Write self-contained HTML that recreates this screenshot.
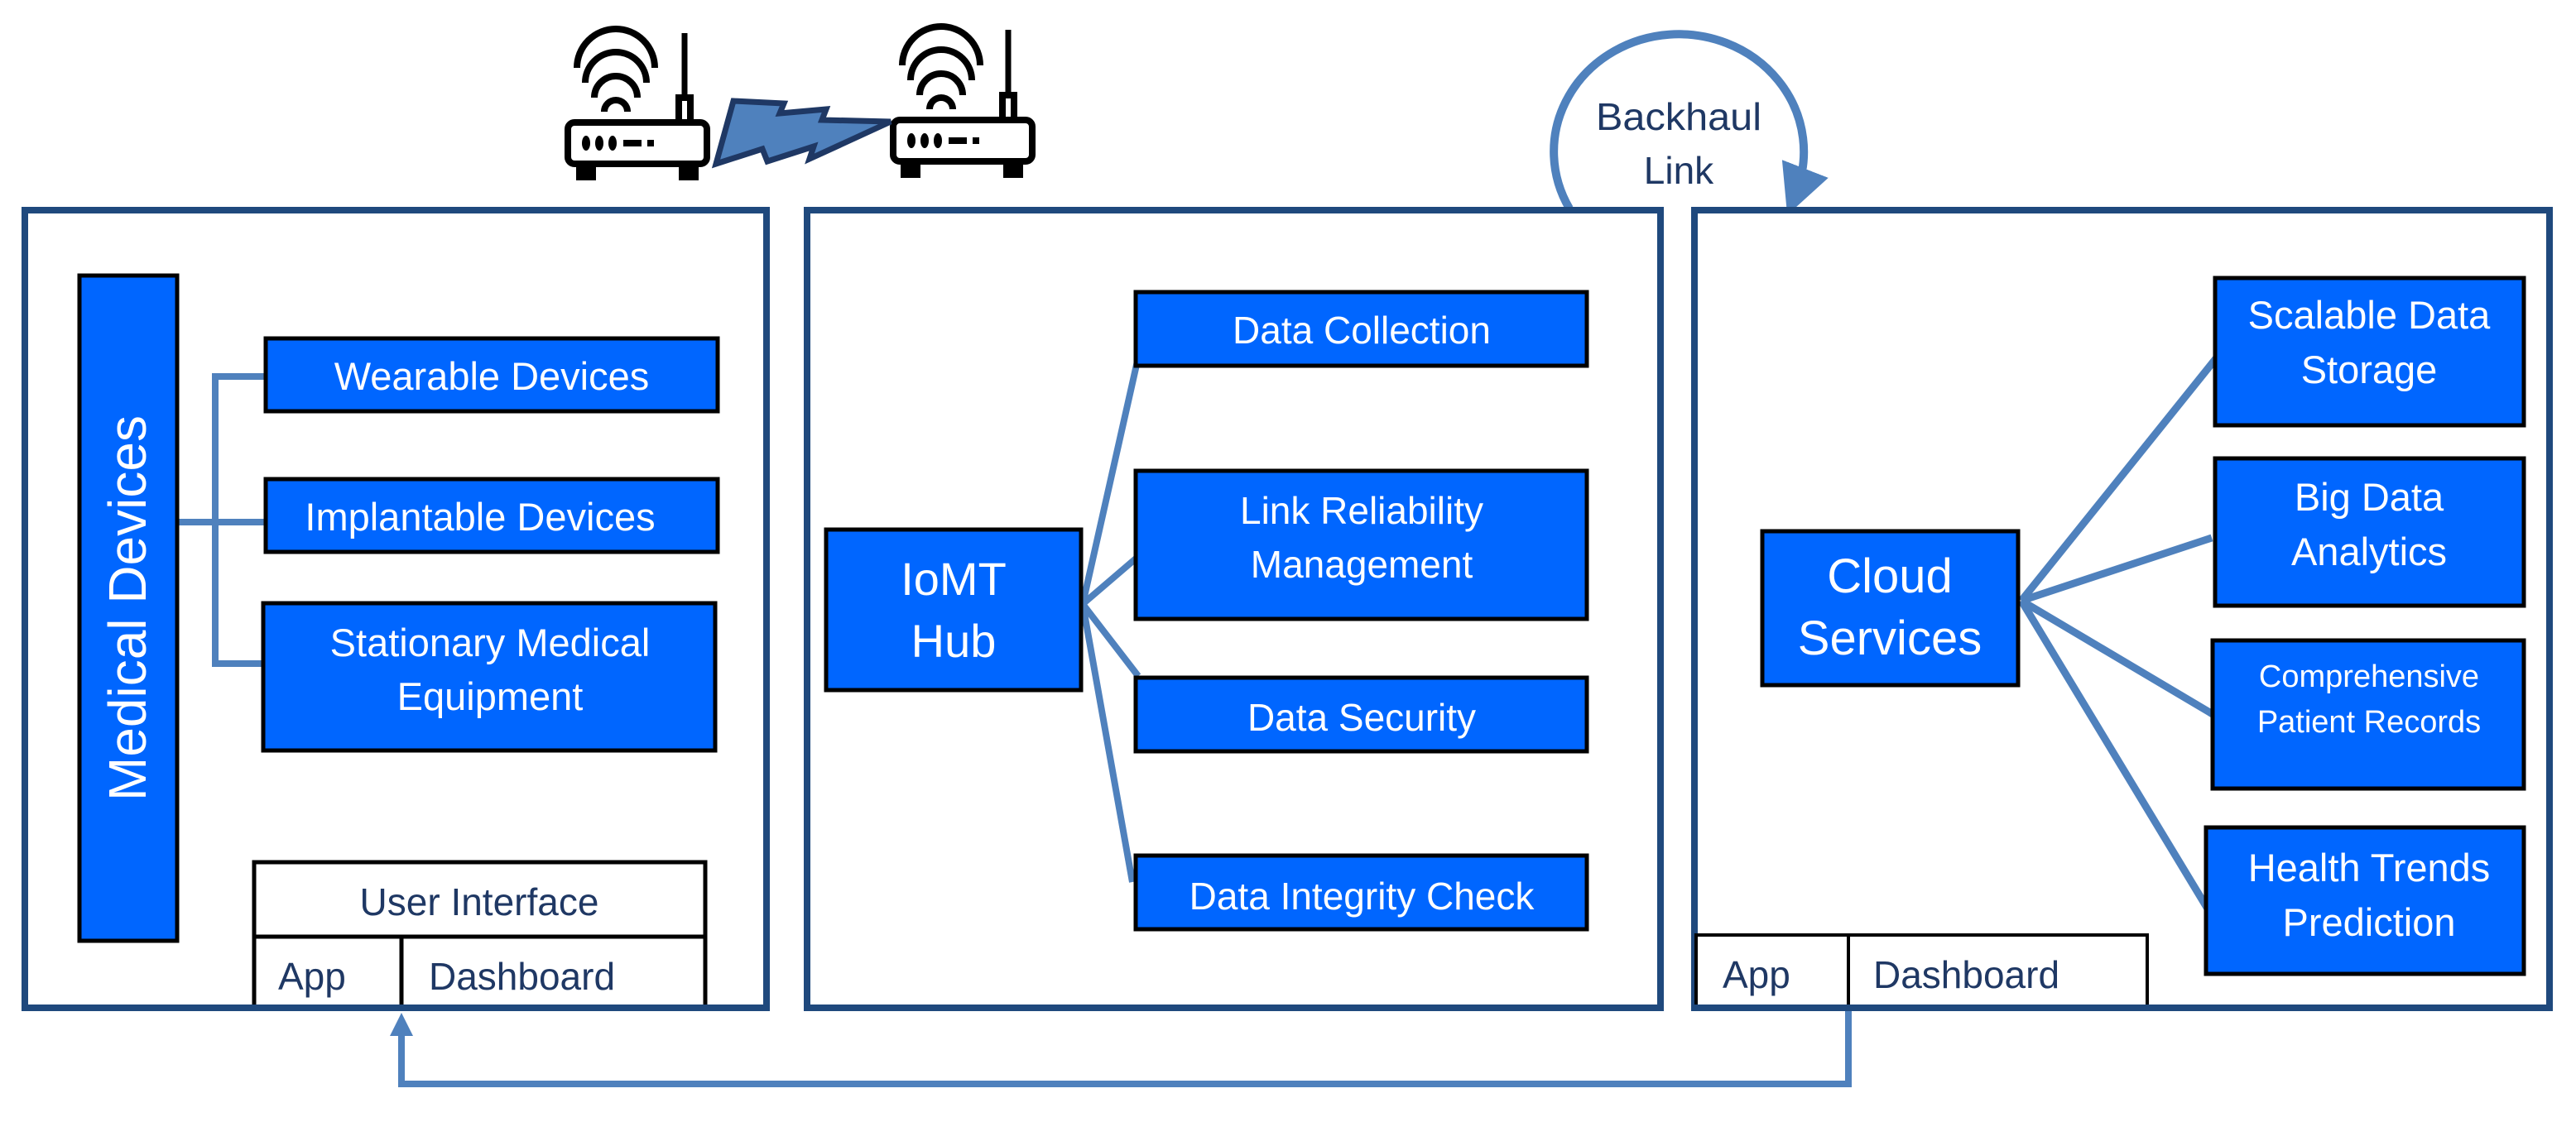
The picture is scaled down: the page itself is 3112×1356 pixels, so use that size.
<!DOCTYPE html>
<html><head><meta charset="utf-8"><style>
html,body{margin:0;padding:0;background:#fff;}
svg{display:block;}
text{font-family:"Liberation Sans",Arial,sans-serif;}
</style></head><body>
<svg width="3112" height="1356" viewBox="0 0 3112 1356" xmlns="http://www.w3.org/2000/svg">
<defs>
<marker id="ah" markerWidth="6" markerHeight="6" refX="3" refY="3" orient="auto" markerUnits="strokeWidth">
<path d="M0,0 L6,3 L0,6 z" fill="#4f81bd"/>
</marker>
</defs>
<!-- Routers -->
<g stroke="#000" fill="none" stroke-width="8">
  <rect x="686" y="148" width="168" height="50" rx="8" fill="#fff"/>
  <rect x="700" y="198" width="16" height="16" fill="#000"/>
  <rect x="824" y="198" width="16" height="16" fill="#000"/>
  <line x1="827" y1="40" x2="827" y2="148" stroke-width="7"/>
  <rect x="820" y="118" width="14" height="30" fill="#fff"/>
  <path d="M730,135 A14,14 0 0 1 758,135"/>
  <path d="M718,118 A26,26 0 0 1 770,118"/>
  <path d="M707,100 A37,37 0 0 1 781,100"/>
  <path d="M697,82 A47,47 0 0 1 791,82"/>
  <rect x="1079" y="145" width="168" height="50" rx="8" fill="#fff"/>
  <rect x="1092" y="195" width="16" height="16" fill="#000"/>
  <rect x="1216" y="195" width="16" height="16" fill="#000"/>
  <line x1="1218" y1="36" x2="1218" y2="145" stroke-width="7"/>
  <rect x="1211" y="115" width="14" height="30" fill="#fff"/>
  <path d="M1123,132 A14,14 0 0 1 1151,132"/>
  <path d="M1111,115 A26,26 0 0 1 1163,115"/>
  <path d="M1100,97 A37,37 0 0 1 1174,97"/>
  <path d="M1090,79 A47,47 0 0 1 1184,79"/>
</g>
<g fill="#000">
  <ellipse cx="708" cy="173" rx="5" ry="9"/><ellipse cx="724" cy="173" rx="5" ry="9"/><ellipse cx="740" cy="173" rx="5" ry="9"/>
  <rect x="753" y="169" width="22" height="8"/><rect x="782" y="169" width="8" height="8"/>
  <ellipse cx="1101" cy="170" rx="5" ry="9"/><ellipse cx="1117" cy="170" rx="5" ry="9"/><ellipse cx="1133" cy="170" rx="5" ry="9"/>
  <rect x="1146" y="166" width="22" height="8"/><rect x="1175" y="166" width="8" height="8"/>
</g>
<polygon points="886,122 947,125 942,137 998,132 993,145 1076,147 978,192 983,177 927,195 921,180 865,198" fill="#4f81bd" stroke="#1f3864" stroke-width="7" stroke-linejoin="miter"/>

<!-- Backhaul arc -->
<path d="M1896,252 A151,142 0 1 1 2170,232" fill="none" stroke="#4f81bd" stroke-width="10" marker-end="url(#ah)"/>
<text x="2028" y="157" font-size="46" fill="#1f3864" text-anchor="middle" textLength="200" lengthAdjust="spacingAndGlyphs">Backhaul</text>
<text x="2028" y="222" font-size="46" fill="#1f3864" text-anchor="middle">Link</text>

<!-- Outer boxes -->
<g fill="#fff" stroke="#1f497d" stroke-width="8">
  <rect x="30" y="254" width="896" height="964"/>
  <rect x="975" y="254" width="1031" height="964"/>
  <rect x="2047" y="254" width="1033" height="964"/>
</g>

<!-- Left content -->
<g stroke="#4f81bd" stroke-width="8" fill="none">
  <polyline points="320,455 260,455 260,802 320,802"/>
  <line x1="214" y1="631" x2="320" y2="631"/>
</g>
<g fill="#0066ff" stroke="#000" stroke-width="5">
  <rect x="96" y="333" width="118" height="804"/>
  <rect x="321" y="409" width="546" height="88"/>
  <rect x="321" y="579" width="546" height="88"/>
  <rect x="318" y="729" width="546" height="178"/>
</g>
<text transform="translate(176,735) rotate(-90)" font-size="64" fill="#fff" text-anchor="middle">Medical Devices</text>
<g fill="#fff" font-size="47" text-anchor="middle">
  <text x="594" y="471">Wearable Devices</text>
  <text x="580" y="641">Implantable Devices</text>
  <text x="592" y="793">Stationary Medical</text>
  <text x="592" y="858">Equipment</text>
</g>
<g fill="#fff" stroke="#000" stroke-width="5">
  <rect x="307" y="1042" width="545" height="176"/>
  <line x1="307" y1="1132" x2="852" y2="1132"/>
  <line x1="485" y1="1132" x2="485" y2="1218"/>
</g>
<g fill="#1f3864" font-size="46">
  <text x="579" y="1106" text-anchor="middle">User Interface</text>
  <text x="336" y="1196">App</text>
  <text x="518" y="1196">Dashboard</text>
</g>
<rect x="30" y="1214" width="896" height="8" fill="#1f497d"/>

<!-- Middle content -->
<g stroke="#4f81bd" stroke-width="8" fill="none">
  <line x1="1308" y1="730" x2="1375" y2="432"/>
  <line x1="1308" y1="730" x2="1378" y2="670"/>
  <line x1="1308" y1="730" x2="1375" y2="817"/>
  <line x1="1308" y1="730" x2="1368" y2="1066"/>
</g>
<g fill="#0066ff" stroke="#000" stroke-width="5">
  <rect x="998" y="640" width="308" height="194"/>
  <rect x="1372" y="353" width="545" height="89"/>
  <rect x="1372" y="569" width="545" height="179"/>
  <rect x="1372" y="819" width="545" height="89"/>
  <rect x="1372" y="1034" width="545" height="89"/>
</g>
<g fill="#fff" font-size="46" text-anchor="middle">
  <text x="1152" y="719" font-size="56">IoMT</text>
  <text x="1152" y="794" font-size="56">Hub</text>
  <text x="1645" y="415">Data Collection</text>
  <text x="1645" y="633">Link Reliability</text>
  <text x="1645" y="698">Management</text>
  <text x="1645" y="883">Data Security</text>
  <text x="1645" y="1099">Data Integrity Check</text>
</g>

<!-- Right content -->
<g stroke="#4f81bd" stroke-width="9" fill="none">
  <line x1="2442" y1="726" x2="2678" y2="432"/>
  <line x1="2442" y1="726" x2="2672" y2="650"/>
  <line x1="2442" y1="726" x2="2678" y2="866"/>
  <line x1="2442" y1="726" x2="2668" y2="1100"/>
</g>
<g fill="#0066ff" stroke="#000" stroke-width="5">
  <rect x="2129" y="642" width="309" height="186"/>
  <rect x="2676" y="336" width="373" height="178"/>
  <rect x="2676" y="554" width="373" height="178"/>
  <rect x="2673" y="774" width="376" height="179"/>
  <rect x="2665" y="1000" width="384" height="177"/>
</g>
<g fill="#fff" font-size="47" text-anchor="middle">
  <text x="2283" y="716" font-size="58">Cloud</text>
  <text x="2283" y="791" font-size="58">Services</text>
  <text x="2862" y="397">Scalable Data</text>
  <text x="2862" y="463">Storage</text>
  <text x="2862" y="617">Big Data</text>
  <text x="2862" y="683">Analytics</text>
  <text x="2862" y="830" font-size="38">Comprehensive</text>
  <text x="2862" y="885" font-size="38">Patient Records</text>
  <text x="2862" y="1065">Health Trends</text>
  <text x="2862" y="1131">Prediction</text>
</g>
<g fill="#fff" stroke="#000" stroke-width="4">
  <rect x="2049" y="1130" width="545" height="88"/>
  <line x1="2233" y1="1130" x2="2233" y2="1218"/>
</g>
<g fill="#1f3864" font-size="46">
  <text x="2081" y="1194">App</text>
  <text x="2263" y="1194">Dashboard</text>
</g>
<rect x="2047" y="1214" width="1033" height="8" fill="#1f497d"/>

<!-- Bottom connector -->
<polyline points="2233,1222 2233,1310 485,1310 485,1250" fill="none" stroke="#4f81bd" stroke-width="8"/>
<polygon points="485,1224 471,1252 499,1252" fill="#4f81bd"/>
</svg>
</body></html>
